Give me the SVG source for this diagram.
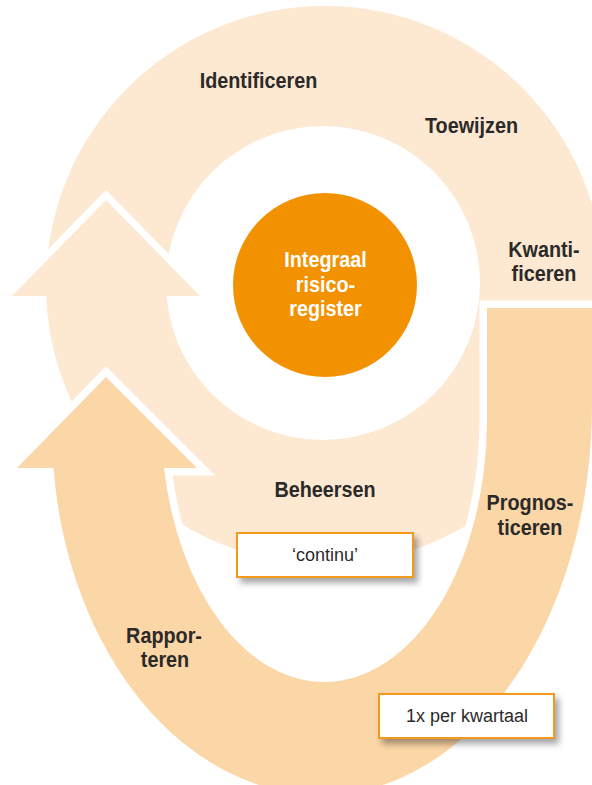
<svg xmlns="http://www.w3.org/2000/svg" width="592" height="785" viewBox="0 0 592 785">
  <defs>
    <filter id="shadow" x="-20%" y="-30%" width="150%" height="180%">
      <feDropShadow dx="4" dy="5" stdDeviation="3" flood-color="#000" flood-opacity="0.35"/>
    </filter>
    <style>
      .light { fill: #FDE8D2; }
      .dark { fill: #FBD6A6; stroke: #FFFFFF; stroke-width: 15; stroke-linejoin: miter; paint-order: stroke; }
      .outline { fill: none; stroke: #FFFFFF; stroke-width: 14; stroke-linejoin: miter; }
      .lbl { font-family: "Liberation Sans", Arial, sans-serif; font-weight: bold; font-size: 22px; fill: #2B2A29; text-anchor: middle; }
      .lblw { font-family: "Liberation Sans", Arial, sans-serif; font-weight: bold; font-size: 22px; fill: #FFFFFF; text-anchor: middle; }
      .box { fill: #FFFFFF; stroke: #F39A1E; stroke-width: 2; }
      .boxtxt { font-family: "Liberation Sans", Arial, sans-serif; font-size: 18px; fill: #2B2A29; text-anchor: middle; }
    </style>
  </defs>

  <g id="arrows">
    <g id="cycle-continu">
      <path class="light" fill-rule="evenodd" d="M 46 285 A 279 279 0 1 0 604 285 A 279 279 0 1 0 46 285 Z M 166 283 A 157 157 0 1 0 480 283 A 157 157 0 1 0 166 283 Z"/>
      <polyline class="outline" points="12,296 106,200 200,296"/>
      <polygon class="light" points="12,296 106,200 200,296 166,296 166,304 47,304 47,296"/>
    </g>
    <g id="cycle-kwartaal">
      <path class="dark" d="M 487 308 L 600 308 L 600 405 L 592 405 A 270 390 0 0 1 322 795 A 270 365 0 0 1 53.5 468 L 17 468 L 106 377 L 197 468 L 164 468 A 163 262 0 0 0 324 682 A 163 262 0 0 0 487 420 Z"/>
    </g>
  </g>

  <g id="register">
    <circle cx="325" cy="285" r="92" fill="#F39200"/>
    <text class="lblw" transform="translate(325.5,267) scale(0.9,1)">Integraal</text>
    <text class="lblw" transform="translate(325.5,292) scale(0.9,1)">risico-</text>
    <text class="lblw" transform="translate(325.5,316) scale(0.9,1)">register</text>
  </g>

  <g id="identificeren">
    <text class="lbl" transform="translate(258.5,88) scale(0.9,1)">Identificeren</text>
  </g>
  <g id="toewijzen">
    <text class="lbl" transform="translate(471.5,133) scale(0.9,1)">Toewijzen</text>
  </g>
  <g id="kwantificeren">
    <text class="lbl" transform="translate(544,257) scale(0.9,1)">Kwanti-</text>
    <text class="lbl" transform="translate(544,281) scale(0.9,1)">ficeren</text>
  </g>
  <g id="beheersen">
    <text class="lbl" transform="translate(325,497) scale(0.9,1)">Beheersen</text>
  </g>
  <g id="prognosticeren">
    <text class="lbl" transform="translate(530,510) scale(0.9,1)">Prognos-</text>
    <text class="lbl" transform="translate(530,535) scale(0.9,1)">ticeren</text>
  </g>
  <g id="rapporteren">
    <text class="lbl" transform="translate(164,643) scale(0.9,1)">Rappor-</text>
    <text class="lbl" transform="translate(165,667) scale(0.9,1)">teren</text>
  </g>

  <g id="continu">
    <rect class="box" x="237" y="533" width="176" height="44" filter="url(#shadow)"/>
    <text class="boxtxt" x="325" y="561">‘continu’</text>
  </g>
  <g id="kwartaal">
    <rect class="box" x="379" y="694" width="175" height="44" filter="url(#shadow)"/>
    <text class="boxtxt" x="467" y="722">1x per kwartaal</text>
  </g>
</svg>
